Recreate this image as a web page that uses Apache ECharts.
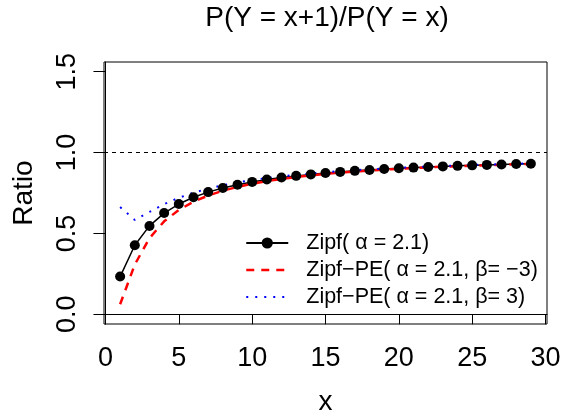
<!DOCTYPE html>
<html>
<head>
<meta charset="utf-8">
<script src="https://cdn.jsdelivr.net/npm/echarts@6/dist/echarts.min.js"></script>
<style>
  html, body { margin: 0; padding: 0; background: #ffffff; }
  #chart { width: 561px; height: 415px; }
</style>
</head>
<body>
<div id="chart"></div>
<script>
// Ratio P(Y = x+1) / P(Y = x) for x = 1..29
const xValues = [1, 2, 3, 4, 5, 6, 7, 8, 9, 10, 11, 12, 13, 14, 15, 16, 17, 18, 19, 20,
                 21, 22, 23, 24, 25, 26, 27, 28, 29];

// Zipf(alpha = 2.1)
const zipfRatio = [0.2333, 0.4268, 0.5465, 0.6259, 0.6819, 0.7235, 0.7555, 0.7809, 0.8015, 0.8186,
                   0.8330, 0.8453, 0.8559, 0.8651, 0.8733, 0.8805, 0.8869, 0.8927, 0.8979, 0.9026,
                   0.9069, 0.9109, 0.9145, 0.9178, 0.9209, 0.9238, 0.9265, 0.9290, 0.9313];

// Zipf-PE(alpha = 2.1, beta = -3)
const zipfPENegRatio = [0.0619, 0.3078, 0.4708, 0.5748, 0.6454, 0.6960, 0.7345, 0.7641, 0.7878, 0.8073,
                        0.8235, 0.8372, 0.8489, 0.8590, 0.8680, 0.8758, 0.8827, 0.8889, 0.8945, 0.8995,
                        0.9041, 0.9084, 0.9122, 0.9157, 0.9189, 0.9220, 0.9248, 0.9274, 0.9298];

// Zipf-PE(alpha = 2.1, beta = 3)
const zipfPEPosRatio = [0.6629, 0.5837, 0.6331, 0.6813, 0.7204, 0.7518, 0.7772, 0.7980, 0.8153, 0.8301,
                        0.8426, 0.8535, 0.8629, 0.8712, 0.8786, 0.8852, 0.8911, 0.8965, 0.9013, 0.9057,
                        0.9097, 0.9134, 0.9168, 0.9199, 0.9229, 0.9256, 0.9282, 0.9306, 0.9328];

const xTicks = [0, 5, 10, 15, 20, 25, 30];
const yTicks = [0, 0.5, 1, 1.5];
const referenceLevel = 1;

const seriesNames = [
  'Zipf( \u03b1 = 2.1)',
  'Zipf\u2212PE( \u03b1 = 2.1, \u03b2= \u22123)',
  'Zipf\u2212PE( \u03b1 = 2.1, \u03b2= 3)'
];

const FONT = '"Liberation Sans", Arial, Helvetica, sans-serif';

function pairs(ys) {
  return xValues.map((x, i) => [x, ys[i]]);
}

// legend keys for the two Zipf-PE curves show the line only, no marker
const lineOnlyKey = { opacity: 0, color: 'rgba(0,0,0,0)', borderWidth: 0 };

const chart = echarts.init(document.getElementById('chart'), null, { renderer: 'canvas' });

chart.setOption({
  backgroundColor: '#ffffff',
  animation: false,
  title: {
    text: 'P(Y = x+1)/P(Y = x)',
    left: 327,
    textAlign: 'center',
    top: 4,
    padding: 0,
    textStyle: { fontFamily: FONT, fontSize: 28, fontWeight: 'normal', color: '#000' }
  },
  grid: {
    left: 104,
    right: 14,
    top: 62,
    bottom: 91,
    show: true,
    borderColor: '#000',
    borderWidth: 1,
    backgroundColor: 'transparent',
    containLabel: false,
    outerBoundsMode: 'none'
  },
  legend: {
    orient: 'vertical',
    left: 245,
    top: 232,
    padding: 0,
    itemGap: 5,
    itemWidth: 42,
    itemHeight: 14,
    selectedMode: false,
    textStyle: {
      fontFamily: FONT, fontSize: 21.5, color: '#000', lineHeight: 22,
      padding: [0, 0, 0, 13]
    },
    data: [
      { name: seriesNames[0], icon: 'inherit', lineStyle: { width: 2, color: '#000', type: 'solid' } },
      { name: seriesNames[1], icon: 'inherit', itemStyle: lineOnlyKey,
        lineStyle: { width: 2.5, type: [8, 7], color: '#ff0000' } },
      { name: seriesNames[2], icon: 'inherit', itemStyle: lineOnlyKey,
        lineStyle: { width: 2, type: [2, 7], color: '#0000ff' } }
    ]
  },
  xAxis: {
    type: 'value',
    min: -0.1,
    max: 30.1,
    name: 'x',
    nameLocation: 'middle',
    nameGap: 64,
    nameTextStyle: { fontFamily: FONT, fontSize: 28, color: '#000' },
    axisLine: { show: true, lineStyle: { color: '#000', width: 1 } },
    axisTick: { show: true, inside: false, length: 10, customValues: xTicks,
                lineStyle: { color: '#000', width: 1 } },
    axisLabel: { show: true, margin: 21, customValues: xTicks,
                 fontFamily: FONT, fontSize: 27, color: '#000' },
    splitLine: { show: false }
  },
  yAxis: {
    type: 'value',
    min: -0.06,
    max: 1.56,
    name: 'Ratio',
    nameLocation: 'middle',
    nameGap: 66,
    nameTextStyle: { fontFamily: FONT, fontSize: 28, color: '#000' },
    axisLine: { show: true, lineStyle: { color: '#000', width: 1 } },
    axisTick: { show: true, inside: false, length: 12, customValues: yTicks,
                lineStyle: { color: '#000', width: 1 } },
    axisLabel: { show: true, margin: 23, rotate: 90, customValues: yTicks,
                 fontFamily: FONT, fontSize: 27, color: '#000',
                 formatter: v => v.toFixed(1) },
    splitLine: { show: false }
  },
  series: [
    {
      name: seriesNames[0],
      type: 'line',
      data: pairs(zipfRatio),
      symbol: 'circle',
      symbolSize: 10,
      showSymbol: true,
      itemStyle: { color: '#000' },
      lineStyle: { color: '#000', width: 1.5 },
      markLine: {
        silent: true,
        symbol: ['none', 'none'],
        label: { show: false },
        lineStyle: { color: '#000', width: 1, type: [4, 4] },
        data: [{ yAxis: referenceLevel }]
      }
    },
    {
      name: seriesNames[1],
      type: 'line',
      data: pairs(zipfPENegRatio),
      symbol: 'none',
      showSymbol: false,
      itemStyle: { color: '#ff0000' },
      lineStyle: { color: '#ff0000', width: 2.5, type: [8, 7] }
    },
    {
      name: seriesNames[2],
      type: 'line',
      data: pairs(zipfPEPosRatio),
      symbol: 'none',
      showSymbol: false,
      itemStyle: { color: '#0000ff' },
      lineStyle: { color: '#0000ff', width: 2, type: [2, 7] }
    }
  ]
});
</script>
</body>
</html>
